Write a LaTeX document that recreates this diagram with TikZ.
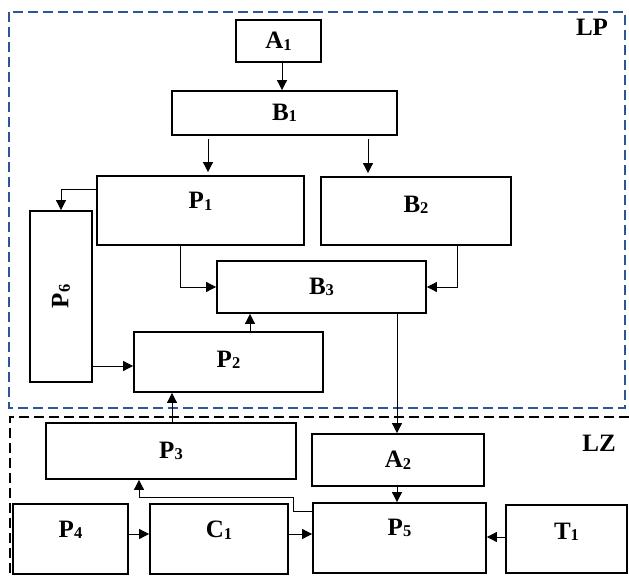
\documentclass[tikz,border=0pt]{standalone}
\usepackage{fontspec}
\setmainfont{Liberation Serif}
\usetikzlibrary{arrows.meta,fit,calc}
\definecolor{lpblue}{RGB}{47,85,151}
\newcommand\lab[2]{#1\raisebox{-1.5pt}{\fontsize{16.5}{18}\selectfont #2}}
\begin{document}
\begin{tikzpicture}[x=1pt,y=-1pt,
  box/.style={draw, line width=1.8pt, inner sep=0pt},
  txt/.style={font=\fontsize{25}{28}\selectfont\bfseries, inner sep=0pt},
  conn/.style={line width=0.8pt, -{Triangle[length=10pt,width=10pt]}},
  zone/.style={line width=2pt, dash pattern=on 10pt off 5pt}
]
\useasboundingbox (0,0) rectangle (629,578);
% zones
\draw[zone, lpblue] (9,12) rectangle (625,408);
\draw[zone, black] (629,417) -- (10,417) -- (10,578);
\node[txt] (LP) at (592,27) {LP};
\node[txt] (LZ) at (599,443) {LZ};
% boxes
\node[box, fit={(236,20) (321,62)}, label={[txt]center:\lab{A}{1}}] (A1) {};
\node[box, fit={(172,91) (397,135)}, label={[txt]center:\lab{B}{1}}] (B1) {};
\node[box, fit={(97,176) (304,245)}, label={[txt,yshift=9pt]center:\lab{P}{1}}] (P1) {};
\node[box, fit={(321,177) (511,245)}, label={[txt,yshift=6pt]center:\lab{B}{2}}] (B2) {};
\node[box, fit={(30,211) (92,382)}, label={[txt,rotate=90]center:\lab{P}{6}}] (P6) {};
\node[box, fit={(217,261) (426,313)}, label={[txt]center:\lab{B}{3}}] (B3) {};
\node[box, fit={(134,332) (323,392)}, label={[txt,yshift=2pt]center:\lab{P}{2}}] (P2) {};
\node[box, fit={(46,423) (296,479)}, label={[txt]center:\lab{P}{3}}] (P3) {};
\node[box, fit={(312,434) (484,486)}, label={[txt]center:\lab{A}{2}}] (A2) {};
\node[box, fit={(13,504) (128,574)}, label={[txt,yshift=9pt]center:\lab{P}{4}}] (P4) {};
\node[box, fit={(150,504) (288,574)}, label={[txt,yshift=9pt]center:\lab{C}{1}}] (C1) {};
\node[box, fit={(313,503) (486,573)}, label={[txt,yshift=10pt]center:\lab{P}{5}}] (P5) {};
\node[box, fit={(506,505) (627,573)}, label={[txt,yshift=7pt]center:\lab{T}{1}}] (T1) {};
% connectors
\draw[conn] (A1.south -| 282,0) -- (B1.north -| 282,0);
\draw[conn, shorten >=3pt] ($(B1.south -| 208,0)+(0,3)$) -- (P1.north -| 208,0);
\draw[conn, shorten >=3pt] ($(B1.south -| 368,0)+(0,3)$) -- (B2.north -| 368,0);
\draw[conn] (P1.west |- 0,189) -| (P6.north);
\draw[conn] (P1.south -| 180,0) |- (B3.west);
\draw[conn] (B2.south -| 457,0) |- (B3.east);
\draw[conn] (P2.north -| 250,0) -- (B3.south -| 250,0);
\draw[conn] (P6.east |- 0,366) -- (P2.west |- 0,366);
\draw[conn] (P3.north -| 172,0) -- (P2.south -| 172,0);
\draw[conn] (B3.south -| 397,0) -- (A2.north -| 397,0);
\draw[conn] (A2.south -| 397,0) -- (P5.north -| 397,0);
\draw[conn] (P4.east |- 0,534) -- (C1.west |- 0,534);
\draw[conn] (C1.east |- 0,534) -- (P5.west |- 0,534);
\draw[conn] (T1.west |- 0,537) -- (P5.east |- 0,537);
\draw[conn] (P5.west |- 0,511) -| (293,497) -| (P3.south -| 139,0);
\end{tikzpicture}
\end{document}
